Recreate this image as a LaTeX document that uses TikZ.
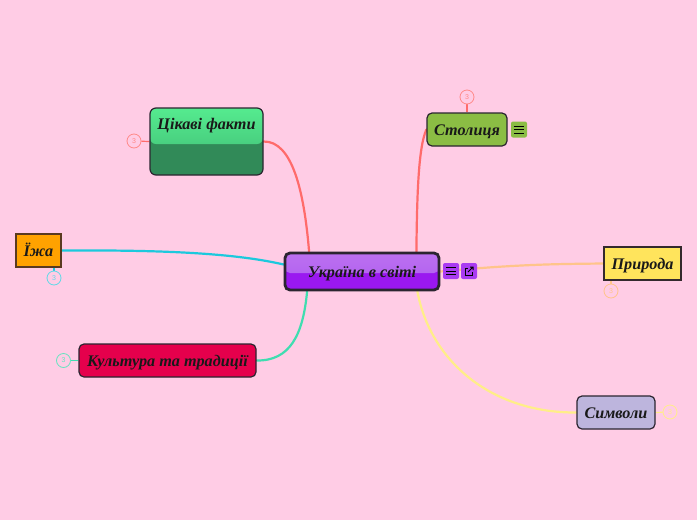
\documentclass[tikz,border=0pt]{standalone}
\usepackage{fontspec}
\setmainfont{Liberation Serif}
\setsansfont{Liberation Sans}
\usepackage{xcolor}
\usepackage{tikz}
\usetikzlibrary{backgrounds}

\definecolor{pagepink}{HTML}{FFCCE5}
\definecolor{edgedark}{HTML}{2B2530}
\definecolor{linkred}{HTML}{FF6B6B}
\definecolor{linkcyan}{HTML}{1CC9DD}
\definecolor{linkteal}{HTML}{3FDDB0}
\definecolor{linkyellow}{HTML}{FFEE88}
\definecolor{linkorange}{HTML}{FFC48A}
\definecolor{mainlow}{HTML}{9A18F0}
\definecolor{maintop}{HTML}{BC70F0}
\definecolor{mainmid}{HTML}{AE5CF0}
\definecolor{stolicagreen}{HTML}{8BBD44}
\definecolor{faktylow}{HTML}{318A58}
\definecolor{faktytop}{HTML}{55EB8F}
\definecolor{faktymid}{HTML}{3EB872}
\definecolor{izhaorange}{HTML}{FFA200}
\definecolor{izhaedge}{HTML}{5A3A20}
\definecolor{kulturared}{HTML}{E5004C}
\definecolor{symvolylilac}{HTML}{BDB5DD}
\definecolor{pryrodayellow}{HTML}{FFE45C}

\tikzset{
    topictext/.style = {font = \bfseries\itshape\fontsize{16.2}{18}\selectfont, text = black!90,
        text height = 14.6pt, text depth = 3pt},
    topic/.style = {topictext, draw = edgedark, line width = 1.2pt, rounded corners = 5pt, inner sep = 0pt},
    badge/.style = {circle, draw = #1, fill = pagepink, line width = 0.8pt, minimum size = 14pt, inner sep = 0pt,
        text = #1, font = \sffamily\fontsize{7}{8}\selectfont},
    link/.style = {line width = 2.2pt, line cap = round},
    twig/.style = {line width = 1.2pt},
    iconbox/.style = {rounded corners = 2pt, minimum width = 16pt, minimum height = 16pt, inner sep = 0pt},
    glyph/.style = {line width = 1pt, black}
}

\newcommand{\threebars}[1]{
    \draw[glyph] ([xshift = -5pt, yshift = 3.5pt]#1.center) -- ++(10pt, 0pt)
        ([xshift = -5pt]#1.center) -- ++(10pt, 0pt)
        ([xshift = -5pt, yshift = -3.5pt]#1.center) -- ++(10pt, 0pt);
}

\begin{document}
\begin{tikzpicture}[x = 1pt, y = -1pt]
    \useasboundingbox (0, 0) rectangle (697, 520);

    % central topic
    \node[topic, line width = 2.8pt, fill = mainlow, minimum width = 154pt, minimum height = 37pt,
        path picture = {\fill[top color = maintop, bottom color = mainmid]
            (path picture bounding box.north west) rectangle ([yshift = -1.5pt]path picture bounding box.east);}]
        (main) at (362, 271.5) {Україна в світі};

    % icons next to the topics
    \node[iconbox, fill = mainlow!85!white] (mainNote) at (451, 271) {};
    \node[iconbox, fill = mainlow!85!white] (mainOpen) at (469, 271) {};
    \node[iconbox, fill = stolicagreen] (stolicaNote) at (519, 129.5) {};

    % branches
    \node[topic, rounded corners = 6pt, fill = faktylow, minimum width = 113pt, minimum height = 67pt,
        path picture = {\fill[top color = faktytop, bottom color = faktymid]
            (path picture bounding box.north west) rectangle ([yshift = -2.5pt]path picture bounding box.east);}]
        (fakty) at (206.5, 141.5) {};
    \node[topictext, inner sep = 0pt] (faktyText) at (206.5, 124) {Цікаві факти};
    \node[topic, fill = stolicagreen, minimum width = 80pt, minimum height = 33pt] (stolica) at (467, 129.5) {Столиця};
    \node[topic, sharp corners, draw = izhaedge, fill = izhaorange, minimum width = 45pt, minimum height = 33pt] (izha) at (38.5, 250.5) {Їжа};
    \node[topic, fill = kulturared, minimum width = 177pt, minimum height = 33pt] (kultura) at (167.5, 360.5) {Культура та традиції};
    \node[topic, fill = symvolylilac, minimum width = 78pt, minimum height = 33pt] (symvoly) at (616, 412.5) {Символи};
    \node[topic, sharp corners, draw = edgedark!80!izhaedge, fill = pryrodayellow, minimum width = 77pt, minimum height = 33pt] (pryroda) at (642.5, 263.5) {Природа};

    % collapsed counters
    \node[badge = linkred!80!white] (faktyCount) at (134, 141) {3};
    \node[badge = linkred!80!white] (stolicaCount) at (467, 97) {3};
    \node[badge = linkcyan!70!white] (izhaCount) at (54, 278) {3};
    \node[badge = linkteal!80!white] (kulturaCount) at (63.5, 360.5) {3};
    \node[badge = linkyellow] (symvolyCount) at (670, 412) {3};
    \node[badge = linkorange] (pryrodaCount) at (611, 291) {3};

    \threebars{mainNote}
    \threebars{stolicaNote}
    \draw[glyph] ([xshift = 3.5pt, yshift = -1pt]mainOpen.center) -- ([xshift = 3.5pt, yshift = -4pt]mainOpen.center)
        -- ([xshift = -4pt, yshift = -4pt]mainOpen.center) -- ([xshift = -4pt, yshift = 2.5pt]mainOpen.center)
        -- ([xshift = -1pt, yshift = 2.5pt]mainOpen.center);
    \draw[glyph] ([xshift = -1pt, yshift = -1pt]mainOpen.center) -- ([xshift = 4pt, yshift = 4pt]mainOpen.center)
        ([xshift = 1pt, yshift = 4pt]mainOpen.center) -- ([xshift = 4pt, yshift = 4pt]mainOpen.center) -- ([xshift = 4pt, yshift = 1pt]mainOpen.center);

    \begin{scope}[on background layer]
        \fill[pagepink] (0, 0) rectangle (697, 520);
        \coordinate (mainRedL) at ([xshift = 25.5pt]main.north west);
        \coordinate (mainRedR) at ([xshift = -24pt]main.north east);
        \coordinate (mainCyan) at ([yshift = 7pt]main.west);
        \coordinate (mainTeal) at ([xshift = 23.5pt]main.south west);
        \coordinate (mainYellow) at ([xshift = -23pt]main.south east);

        \draw[link, linkred] (fakty.east) .. controls (292, 141) and (304, 190) .. (mainRedL);
        \draw[link, linkred] (stolica.west) .. controls (418, 148) and (417, 200) .. (mainRedR);
        \draw[link, linkcyan] (izha.east) .. controls (150, 250) and (230, 252) .. (mainCyan);
        \draw[link, linkteal] (kultura.east) .. controls (290, 361) and (303, 335) .. (mainTeal);
        \draw[link, linkyellow] (mainYellow) .. controls (430, 360) and (490, 413) .. (symvoly.west);
        \draw[link, linkorange] (main.east) .. controls (520, 264) and (560, 264) .. (pryroda.west);

        \draw[twig, linkred] (fakty.west) -- (faktyCount);
        \draw[twig, linkred] (stolica.north) -- (stolicaCount);
        \draw[twig, linkcyan] ([xshift = 15.5pt]izha.south) -- (izhaCount);
        \draw[twig, linkteal] (kultura.west) -- (kulturaCount);
        \draw[twig, linkyellow] (symvoly.east) -- (symvolyCount);
        \draw[twig, linkorange] ([xshift = -31.5pt]pryroda.south) -- (pryrodaCount);
    \end{scope}
\end{tikzpicture}
\end{document}
